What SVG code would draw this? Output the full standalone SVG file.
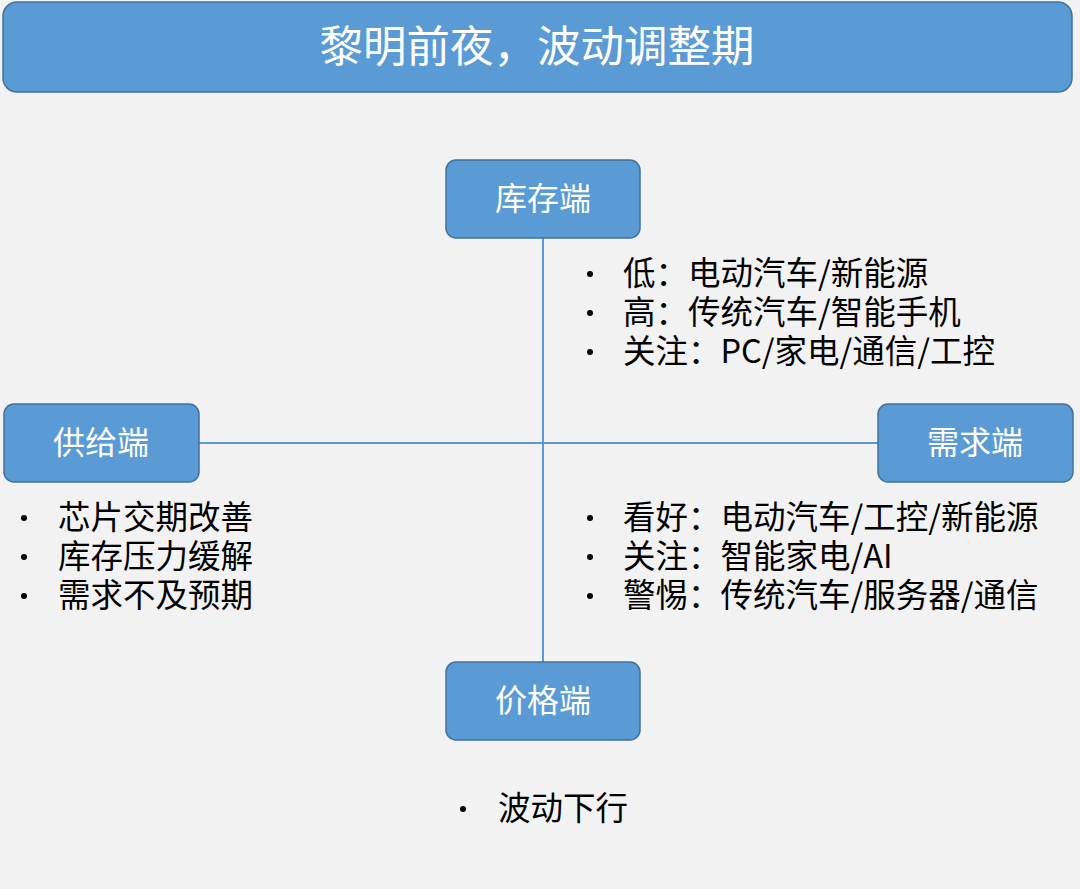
<svg xmlns="http://www.w3.org/2000/svg" width="1080" height="889" viewBox="0 0 1080 889">
<style>
.box{fill:#5b9bd5;stroke:#41719c;stroke-width:1.5}
.lbl{font-family:"Noto Sans CJK SC","Noto Sans",sans-serif;fill:#fff;font-size:32px;text-anchor:middle}
.t{font-family:"Noto Sans CJK SC","Noto Sans",sans-serif;fill:#000;font-size:32.5px}
.ln{stroke:#5b9bd5;stroke-width:2;fill:none}
.b{fill:#000}
</style>
<rect x="0" y="0" width="1080" height="889" fill="#f2f2f2"/>
<g id="title"><rect class="box" x="3" y="2" width="1069" height="90" rx="14"/><text class="lbl" x="537" y="62" style="font-size:43.5px">黎明前夜，波动调整期</text></g>
<g id="connectors"><line class="ln" x1="543" y1="238" x2="543" y2="662"/><line class="ln" x1="199" y1="443" x2="878" y2="443"/></g>
<g id="kucun"><rect class="box" x="446" y="160" width="194" height="78" rx="10"/><text class="lbl" x="543" y="210">库存端</text></g>
<g id="gongji"><rect class="box" x="4" y="404" width="195" height="78" rx="10"/><text class="lbl" x="101" y="454">供给端</text></g>
<g id="xuqiu"><rect class="box" x="878" y="404" width="195" height="78" rx="10"/><text class="lbl" x="975" y="454">需求端</text></g>
<g id="jiage"><rect class="box" x="446" y="662" width="194" height="78" rx="10"/><text class="lbl" x="543" y="712">价格端</text></g>
<g id="list-kucun">
<circle class="b" cx="590" cy="274" r="3"/><text class="t" x="623" y="285">低：电动汽车/新能源</text>
<circle class="b" cx="590" cy="313" r="3"/><text class="t" x="623" y="324">高：传统汽车/智能手机</text>
<circle class="b" cx="590" cy="352" r="3"/><text class="t" x="623" y="363">关注：PC/家电/通信/工控</text>
</g>
<g id="list-gongji">
<circle class="b" cx="24" cy="518" r="3"/><text class="t" x="58" y="529">芯片交期改善</text>
<circle class="b" cx="24" cy="557" r="3"/><text class="t" x="58" y="568">库存压力缓解</text>
<circle class="b" cx="24" cy="596" r="3"/><text class="t" x="58" y="607">需求不及预期</text>
</g>
<g id="list-xuqiu">
<circle class="b" cx="590" cy="518" r="3"/><text class="t" x="623" y="529">看好：电动汽车/工控/新能源</text>
<circle class="b" cx="590" cy="557" r="3"/><text class="t" x="623" y="568">关注：智能家电/AI</text>
<circle class="b" cx="590" cy="596" r="3"/><text class="t" x="623" y="607">警惕：传统汽车/服务器/通信</text>
</g>
<g id="list-jiage"><circle class="b" cx="463" cy="809" r="3"/><text class="t" x="498" y="820">波动下行</text></g>
</svg>
